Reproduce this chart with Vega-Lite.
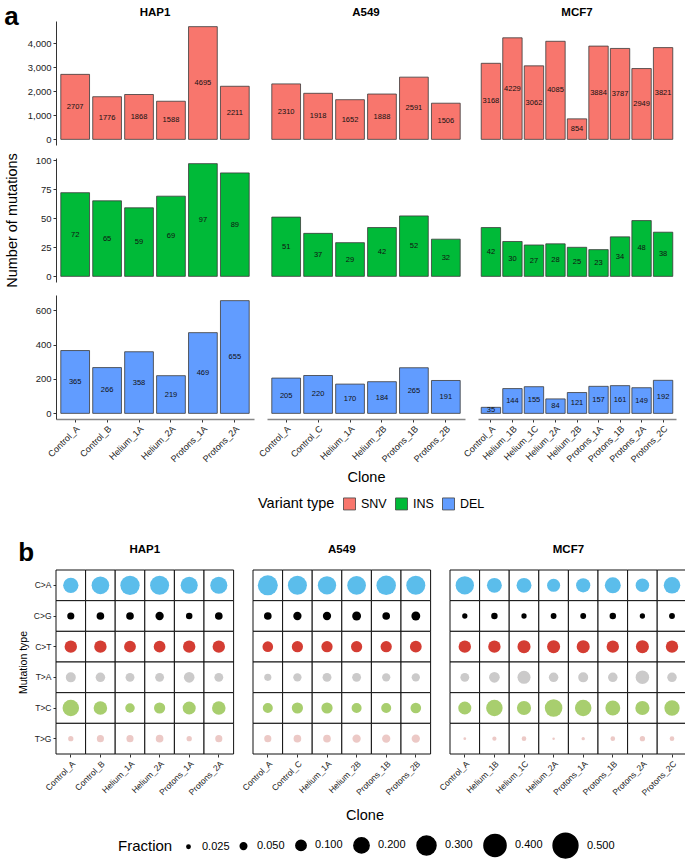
{
"$schema": "https://vega.github.io/schema/vega-lite/v6.json",
"padding": {"left": 4, "top": 3, "right": 0, "bottom": 0},
"config": {
  "font": "Liberation Sans",
  "view": {"stroke": null},
  "axis": {"grid": false, "labelColor": "#222", "labelFont": "Liberation Sans", "titleFont": "Liberation Sans", "domainColor": "#333", "tickColor": "#333", "titleFontWeight": "normal", "titleColor": "#000", "tickSize": 3},
  "header": {"labelFont": "Liberation Sans", "titleFont": "Liberation Sans"},
  "legend": {"labelFont": "Liberation Sans", "titleFont": "Liberation Sans"},
  "title": {"font": "Liberation Sans"},
  "bar": {"stroke": "#3a3a3a", "strokeWidth": 0.8},
  "text": {"fontSize": 7.5, "color": "#111"}
},
"datasets": {
  "counts": [
    {"cell":"HAP1","clone":"Control_A","type":"SNV","n":2707},
    {"cell":"HAP1","clone":"Control_B","type":"SNV","n":1776},
    {"cell":"HAP1","clone":"Helium_1A","type":"SNV","n":1868},
    {"cell":"HAP1","clone":"Helium_2A","type":"SNV","n":1588},
    {"cell":"HAP1","clone":"Protons_1A","type":"SNV","n":4695},
    {"cell":"HAP1","clone":"Protons_2A","type":"SNV","n":2211},
    {"cell":"A549","clone":"Control_A","type":"SNV","n":2310},
    {"cell":"A549","clone":"Control_C","type":"SNV","n":1918},
    {"cell":"A549","clone":"Helium_1A","type":"SNV","n":1652},
    {"cell":"A549","clone":"Helium_2B","type":"SNV","n":1888},
    {"cell":"A549","clone":"Protons_1B","type":"SNV","n":2591},
    {"cell":"A549","clone":"Protons_2B","type":"SNV","n":1506},
    {"cell":"MCF7","clone":"Control_A","type":"SNV","n":3168},
    {"cell":"MCF7","clone":"Helium_1B","type":"SNV","n":4229},
    {"cell":"MCF7","clone":"Helium_1C","type":"SNV","n":3062},
    {"cell":"MCF7","clone":"Helium_2A","type":"SNV","n":4085},
    {"cell":"MCF7","clone":"Helium_2B","type":"SNV","n":854},
    {"cell":"MCF7","clone":"Protons_1A","type":"SNV","n":3884},
    {"cell":"MCF7","clone":"Protons_1B","type":"SNV","n":3787},
    {"cell":"MCF7","clone":"Protons_2A","type":"SNV","n":2949},
    {"cell":"MCF7","clone":"Protons_2C","type":"SNV","n":3821},
    {"cell":"HAP1","clone":"Control_A","type":"INS","n":72},
    {"cell":"HAP1","clone":"Control_B","type":"INS","n":65},
    {"cell":"HAP1","clone":"Helium_1A","type":"INS","n":59},
    {"cell":"HAP1","clone":"Helium_2A","type":"INS","n":69},
    {"cell":"HAP1","clone":"Protons_1A","type":"INS","n":97},
    {"cell":"HAP1","clone":"Protons_2A","type":"INS","n":89},
    {"cell":"A549","clone":"Control_A","type":"INS","n":51},
    {"cell":"A549","clone":"Control_C","type":"INS","n":37},
    {"cell":"A549","clone":"Helium_1A","type":"INS","n":29},
    {"cell":"A549","clone":"Helium_2B","type":"INS","n":42},
    {"cell":"A549","clone":"Protons_1B","type":"INS","n":52},
    {"cell":"A549","clone":"Protons_2B","type":"INS","n":32},
    {"cell":"MCF7","clone":"Control_A","type":"INS","n":42},
    {"cell":"MCF7","clone":"Helium_1B","type":"INS","n":30},
    {"cell":"MCF7","clone":"Helium_1C","type":"INS","n":27},
    {"cell":"MCF7","clone":"Helium_2A","type":"INS","n":28},
    {"cell":"MCF7","clone":"Helium_2B","type":"INS","n":25},
    {"cell":"MCF7","clone":"Protons_1A","type":"INS","n":23},
    {"cell":"MCF7","clone":"Protons_1B","type":"INS","n":34},
    {"cell":"MCF7","clone":"Protons_2A","type":"INS","n":48},
    {"cell":"MCF7","clone":"Protons_2C","type":"INS","n":38},
    {"cell":"HAP1","clone":"Control_A","type":"DEL","n":365},
    {"cell":"HAP1","clone":"Control_B","type":"DEL","n":266},
    {"cell":"HAP1","clone":"Helium_1A","type":"DEL","n":358},
    {"cell":"HAP1","clone":"Helium_2A","type":"DEL","n":219},
    {"cell":"HAP1","clone":"Protons_1A","type":"DEL","n":469},
    {"cell":"HAP1","clone":"Protons_2A","type":"DEL","n":655},
    {"cell":"A549","clone":"Control_A","type":"DEL","n":205},
    {"cell":"A549","clone":"Control_C","type":"DEL","n":220},
    {"cell":"A549","clone":"Helium_1A","type":"DEL","n":170},
    {"cell":"A549","clone":"Helium_2B","type":"DEL","n":184},
    {"cell":"A549","clone":"Protons_1B","type":"DEL","n":265},
    {"cell":"A549","clone":"Protons_2B","type":"DEL","n":191},
    {"cell":"MCF7","clone":"Control_A","type":"DEL","n":35},
    {"cell":"MCF7","clone":"Helium_1B","type":"DEL","n":144},
    {"cell":"MCF7","clone":"Helium_1C","type":"DEL","n":155},
    {"cell":"MCF7","clone":"Helium_2A","type":"DEL","n":84},
    {"cell":"MCF7","clone":"Helium_2B","type":"DEL","n":121},
    {"cell":"MCF7","clone":"Protons_1A","type":"DEL","n":157},
    {"cell":"MCF7","clone":"Protons_1B","type":"DEL","n":161},
    {"cell":"MCF7","clone":"Protons_2A","type":"DEL","n":149},
    {"cell":"MCF7","clone":"Protons_2C","type":"DEL","n":192}
  ],
  "muts": [
    {"cell":"HAP1","clone":"Control_A","mut":"C>A","f":0.20},
    {"cell":"HAP1","clone":"Control_B","mut":"C>A","f":0.26},
    {"cell":"HAP1","clone":"Helium_1A","mut":"C>A","f":0.31},
    {"cell":"HAP1","clone":"Helium_2A","mut":"C>A","f":0.30},
    {"cell":"HAP1","clone":"Protons_1A","mut":"C>A","f":0.245},
    {"cell":"HAP1","clone":"Protons_2A","mut":"C>A","f":0.245},
    {"cell":"HAP1","clone":"Control_A","mut":"C>G","f":0.056},
    {"cell":"HAP1","clone":"Control_B","mut":"C>G","f":0.062},
    {"cell":"HAP1","clone":"Helium_1A","mut":"C>G","f":0.062},
    {"cell":"HAP1","clone":"Helium_2A","mut":"C>G","f":0.07},
    {"cell":"HAP1","clone":"Protons_1A","mut":"C>G","f":0.049},
    {"cell":"HAP1","clone":"Protons_2A","mut":"C>G","f":0.062},
    {"cell":"HAP1","clone":"Control_A","mut":"C>T","f":0.137},
    {"cell":"HAP1","clone":"Control_B","mut":"C>T","f":0.137},
    {"cell":"HAP1","clone":"Helium_1A","mut":"C>T","f":0.125},
    {"cell":"HAP1","clone":"Helium_2A","mut":"C>T","f":0.125},
    {"cell":"HAP1","clone":"Protons_1A","mut":"C>T","f":0.137},
    {"cell":"HAP1","clone":"Protons_2A","mut":"C>T","f":0.137},
    {"cell":"HAP1","clone":"Control_A","mut":"T>A","f":0.095},
    {"cell":"HAP1","clone":"Control_B","mut":"T>A","f":0.087},
    {"cell":"HAP1","clone":"Helium_1A","mut":"T>A","f":0.078},
    {"cell":"HAP1","clone":"Helium_2A","mut":"T>A","f":0.078},
    {"cell":"HAP1","clone":"Protons_1A","mut":"T>A","f":0.105},
    {"cell":"HAP1","clone":"Protons_2A","mut":"T>A","f":0.078},
    {"cell":"HAP1","clone":"Control_A","mut":"T>C","f":0.23},
    {"cell":"HAP1","clone":"Control_B","mut":"T>C","f":0.16},
    {"cell":"HAP1","clone":"Helium_1A","mut":"T>C","f":0.087},
    {"cell":"HAP1","clone":"Helium_2A","mut":"T>C","f":0.115},
    {"cell":"HAP1","clone":"Protons_1A","mut":"T>C","f":0.15},
    {"cell":"HAP1","clone":"Protons_2A","mut":"T>C","f":0.16},
    {"cell":"HAP1","clone":"Control_A","mut":"T>G","f":0.038},
    {"cell":"HAP1","clone":"Control_B","mut":"T>G","f":0.056},
    {"cell":"HAP1","clone":"Helium_1A","mut":"T>G","f":0.056},
    {"cell":"HAP1","clone":"Helium_2A","mut":"T>G","f":0.062},
    {"cell":"HAP1","clone":"Protons_1A","mut":"T>G","f":0.038},
    {"cell":"HAP1","clone":"Protons_2A","mut":"T>G","f":0.056},
    {"cell":"A549","clone":"Control_A","mut":"C>A","f":0.33},
    {"cell":"A549","clone":"Control_C","mut":"C>A","f":0.30},
    {"cell":"A549","clone":"Helium_1A","mut":"C>A","f":0.28},
    {"cell":"A549","clone":"Helium_2B","mut":"C>A","f":0.29},
    {"cell":"A549","clone":"Protons_1B","mut":"C>A","f":0.315},
    {"cell":"A549","clone":"Protons_2B","mut":"C>A","f":0.30},
    {"cell":"A549","clone":"Control_A","mut":"C>G","f":0.062},
    {"cell":"A549","clone":"Control_C","mut":"C>G","f":0.07},
    {"cell":"A549","clone":"Helium_1A","mut":"C>G","f":0.07},
    {"cell":"A549","clone":"Helium_2B","mut":"C>G","f":0.078},
    {"cell":"A549","clone":"Protons_1B","mut":"C>G","f":0.062},
    {"cell":"A549","clone":"Protons_2B","mut":"C>G","f":0.078},
    {"cell":"A549","clone":"Control_A","mut":"C>T","f":0.105},
    {"cell":"A549","clone":"Control_C","mut":"C>T","f":0.115},
    {"cell":"A549","clone":"Helium_1A","mut":"C>T","f":0.115},
    {"cell":"A549","clone":"Helium_2B","mut":"C>T","f":0.115},
    {"cell":"A549","clone":"Protons_1B","mut":"C>T","f":0.115},
    {"cell":"A549","clone":"Protons_2B","mut":"C>T","f":0.125},
    {"cell":"A549","clone":"Control_A","mut":"T>A","f":0.056},
    {"cell":"A549","clone":"Control_C","mut":"T>A","f":0.07},
    {"cell":"A549","clone":"Helium_1A","mut":"T>A","f":0.078},
    {"cell":"A549","clone":"Helium_2B","mut":"T>A","f":0.078},
    {"cell":"A549","clone":"Protons_1B","mut":"T>A","f":0.07},
    {"cell":"A549","clone":"Protons_2B","mut":"T>A","f":0.07},
    {"cell":"A549","clone":"Control_A","mut":"T>C","f":0.095},
    {"cell":"A549","clone":"Control_C","mut":"T>C","f":0.115},
    {"cell":"A549","clone":"Helium_1A","mut":"T>C","f":0.115},
    {"cell":"A549","clone":"Helium_2B","mut":"T>C","f":0.095},
    {"cell":"A549","clone":"Protons_1B","mut":"T>C","f":0.095},
    {"cell":"A549","clone":"Protons_2B","mut":"T>C","f":0.105},
    {"cell":"A549","clone":"Control_A","mut":"T>G","f":0.056},
    {"cell":"A549","clone":"Control_C","mut":"T>G","f":0.062},
    {"cell":"A549","clone":"Helium_1A","mut":"T>G","f":0.062},
    {"cell":"A549","clone":"Helium_2B","mut":"T>G","f":0.07},
    {"cell":"A549","clone":"Protons_1B","mut":"T>G","f":0.07},
    {"cell":"A549","clone":"Protons_2B","mut":"T>G","f":0.07},
    {"cell":"MCF7","clone":"Control_A","mut":"C>A","f":0.28},
    {"cell":"MCF7","clone":"Helium_1B","mut":"C>A","f":0.19},
    {"cell":"MCF7","clone":"Helium_1C","mut":"C>A","f":0.19},
    {"cell":"MCF7","clone":"Helium_2A","mut":"C>A","f":0.15},
    {"cell":"MCF7","clone":"Protons_1A","mut":"C>A","f":0.174},
    {"cell":"MCF7","clone":"Protons_1B","mut":"C>A","f":0.216},
    {"cell":"MCF7","clone":"Protons_2A","mut":"C>A","f":0.16},
    {"cell":"MCF7","clone":"Protons_2C","mut":"C>A","f":0.23},
    {"cell":"MCF7","clone":"Control_A","mut":"C>G","f":0.038},
    {"cell":"MCF7","clone":"Helium_1B","mut":"C>G","f":0.049},
    {"cell":"MCF7","clone":"Helium_1C","mut":"C>G","f":0.038},
    {"cell":"MCF7","clone":"Helium_2A","mut":"C>G","f":0.043},
    {"cell":"MCF7","clone":"Protons_1A","mut":"C>G","f":0.043},
    {"cell":"MCF7","clone":"Protons_1B","mut":"C>G","f":0.049},
    {"cell":"MCF7","clone":"Protons_2A","mut":"C>G","f":0.038},
    {"cell":"MCF7","clone":"Protons_2C","mut":"C>G","f":0.043},
    {"cell":"MCF7","clone":"Control_A","mut":"C>T","f":0.137},
    {"cell":"MCF7","clone":"Helium_1B","mut":"C>T","f":0.137},
    {"cell":"MCF7","clone":"Helium_1C","mut":"C>T","f":0.15},
    {"cell":"MCF7","clone":"Helium_2A","mut":"C>T","f":0.15},
    {"cell":"MCF7","clone":"Protons_1A","mut":"C>T","f":0.15},
    {"cell":"MCF7","clone":"Protons_1B","mut":"C>T","f":0.137},
    {"cell":"MCF7","clone":"Protons_2A","mut":"C>T","f":0.15},
    {"cell":"MCF7","clone":"Protons_2C","mut":"C>T","f":0.137},
    {"cell":"MCF7","clone":"Control_A","mut":"T>A","f":0.078},
    {"cell":"MCF7","clone":"Helium_1B","mut":"T>A","f":0.105},
    {"cell":"MCF7","clone":"Helium_1C","mut":"T>A","f":0.15},
    {"cell":"MCF7","clone":"Helium_2A","mut":"T>A","f":0.087},
    {"cell":"MCF7","clone":"Protons_1A","mut":"T>A","f":0.095},
    {"cell":"MCF7","clone":"Protons_1B","mut":"T>A","f":0.087},
    {"cell":"MCF7","clone":"Protons_2A","mut":"T>A","f":0.16},
    {"cell":"MCF7","clone":"Protons_2C","mut":"T>A","f":0.087},
    {"cell":"MCF7","clone":"Control_A","mut":"T>C","f":0.15},
    {"cell":"MCF7","clone":"Helium_1B","mut":"T>C","f":0.23},
    {"cell":"MCF7","clone":"Helium_1C","mut":"T>C","f":0.174},
    {"cell":"MCF7","clone":"Helium_2A","mut":"T>C","f":0.26},
    {"cell":"MCF7","clone":"Protons_1A","mut":"T>C","f":0.23},
    {"cell":"MCF7","clone":"Protons_1B","mut":"T>C","f":0.19},
    {"cell":"MCF7","clone":"Protons_2A","mut":"T>C","f":0.174},
    {"cell":"MCF7","clone":"Protons_2C","mut":"T>C","f":0.20},
    {"cell":"MCF7","clone":"Control_A","mut":"T>G","f":0.022},
    {"cell":"MCF7","clone":"Helium_1B","mut":"T>G","f":0.03},
    {"cell":"MCF7","clone":"Helium_1C","mut":"T>G","f":0.033},
    {"cell":"MCF7","clone":"Helium_2A","mut":"T>G","f":0.021},
    {"cell":"MCF7","clone":"Protons_1A","mut":"T>G","f":0.025},
    {"cell":"MCF7","clone":"Protons_1B","mut":"T>G","f":0.033},
    {"cell":"MCF7","clone":"Protons_2A","mut":"T>G","f":0.038},
    {"cell":"MCF7","clone":"Protons_2C","mut":"T>G","f":0.033}
  ]
},
"vconcat": [
  {
    "title": {"text": "a", "anchor": "start", "frame": "bounds", "fontSize": 26, "fontWeight": "bold", "offset": -23, "color": "#000"},
    "data": {"name": "counts"},
    "columns": 3,
    "bounds": "flush",
    "spacing": {"row": 13, "column": 13},
    "concat": [
      {"title": {"text": "HAP1", "fontSize": 11.5, "fontWeight": "bold", "offset": 3, "color": "#000"},
       "transform": [{"filter": {"and": [{"field": "type", "equal": "SNV"}, {"field": "cell", "equal": "HAP1"}]}}],
       "width": 198, "height": 124,
       "layer": [
         {"mark": "bar", "encoding": {
           "x": {"field": "clone", "type": "nominal", "scale": {"paddingInner": 0.1, "paddingOuter": 0.15}, "axis": null},
           "y": {"field": "n", "type": "quantitative", "scale": {"domain": [-234.75, 4929.75], "nice": false, "zero": false}, "axis": {"values": [0, 1000, 2000, 3000, 4000], "format": ",d", "title": null, "labelFontSize": 9.5}},
           "color": {"field": "type", "type": "nominal", "scale": {"domain": ["SNV", "INS", "DEL"], "range": ["#F8766D", "#00BA38", "#619CFF"]}, "legend": {"title": "Variant type", "orient": "none", "legendX": 202, "legendY": 476, "direction": "horizontal", "titleOrient": "left", "symbolType": "square", "symbolSize": 144, "symbolStrokeColor": "#444", "symbolStrokeWidth": 0.8, "labelFontSize": 12.5, "titleFontSize": 14.5, "titleFontWeight": "normal", "columnPadding": 6, "labelOffset": 5, "titlePadding": 8}}}},
         {"mark": "text", "encoding": {
           "x": {"field": "clone", "type": "nominal"},
           "y": {"field": "n", "type": "quantitative", "scale": {"domain": [-469.5, 9859.5], "nice": false, "zero": false}, "axis": null},
           "text": {"field": "n", "type": "quantitative", "format": "d"}}}
       ],
       "resolve": {"scale": {"y": "independent"}}},
      {"title": {"text": "A549", "fontSize": 11.5, "fontWeight": "bold", "offset": 3, "color": "#000"},
       "transform": [{"filter": {"and": [{"field": "type", "equal": "SNV"}, {"field": "cell", "equal": "A549"}]}}],
       "width": 198, "height": 124,
       "layer": [
         {"mark": "bar", "encoding": {
           "x": {"field": "clone", "type": "nominal", "scale": {"paddingInner": 0.1, "paddingOuter": 0.15}, "axis": null},
           "y": {"field": "n", "type": "quantitative", "scale": {"domain": [-234.75, 4929.75], "nice": false, "zero": false}, "axis": null},
           "color": {"field": "type", "type": "nominal"}}},
         {"mark": "text", "encoding": {
           "x": {"field": "clone", "type": "nominal"},
           "y": {"field": "n", "type": "quantitative", "scale": {"domain": [-469.5, 9859.5], "nice": false, "zero": false}, "axis": null},
           "text": {"field": "n", "type": "quantitative", "format": "d"}}}
       ],
       "resolve": {"scale": {"y": "independent"}}},
      {"title": {"text": "MCF7", "fontSize": 11.5, "fontWeight": "bold", "offset": 3, "color": "#000"},
       "transform": [{"filter": {"and": [{"field": "type", "equal": "SNV"}, {"field": "cell", "equal": "MCF7"}]}}],
       "width": 198, "height": 124,
       "layer": [
         {"mark": "bar", "encoding": {
           "x": {"field": "clone", "type": "nominal", "scale": {"paddingInner": 0.1, "paddingOuter": 0.15}, "axis": null},
           "y": {"field": "n", "type": "quantitative", "scale": {"domain": [-234.75, 4929.75], "nice": false, "zero": false}, "axis": null},
           "color": {"field": "type", "type": "nominal"}}},
         {"mark": "text", "encoding": {
           "x": {"field": "clone", "type": "nominal"},
           "y": {"field": "n", "type": "quantitative", "scale": {"domain": [-469.5, 9859.5], "nice": false, "zero": false}, "axis": null},
           "text": {"field": "n", "type": "quantitative", "format": "d"}}}
       ],
       "resolve": {"scale": {"y": "independent"}}},
      {"transform": [{"filter": {"and": [{"field": "type", "equal": "INS"}, {"field": "cell", "equal": "HAP1"}]}}],
       "width": 198, "height": 124,
       "layer": [
         {"mark": "bar", "encoding": {
           "x": {"field": "clone", "type": "nominal", "scale": {"paddingInner": 0.1, "paddingOuter": 0.15}, "axis": null},
           "y": {"field": "n", "type": "quantitative", "scale": {"domain": [-4.85, 101.85], "nice": false, "zero": false}, "axis": {"values": [0, 25, 50, 75, 100], "title": "Number of mutations", "titleFontSize": 14.5, "titlePadding": 16, "labelFontSize": 9.5}},
           "color": {"field": "type", "type": "nominal"}}},
         {"mark": "text", "encoding": {
           "x": {"field": "clone", "type": "nominal"},
           "y": {"field": "n", "type": "quantitative", "scale": {"domain": [-9.7, 203.7], "nice": false, "zero": false}, "axis": null},
           "text": {"field": "n", "type": "quantitative", "format": "d"}}}
       ],
       "resolve": {"scale": {"y": "independent"}}},
      {"transform": [{"filter": {"and": [{"field": "type", "equal": "INS"}, {"field": "cell", "equal": "A549"}]}}],
       "width": 198, "height": 124,
       "layer": [
         {"mark": "bar", "encoding": {
           "x": {"field": "clone", "type": "nominal", "scale": {"paddingInner": 0.1, "paddingOuter": 0.15}, "axis": null},
           "y": {"field": "n", "type": "quantitative", "scale": {"domain": [-4.85, 101.85], "nice": false, "zero": false}, "axis": null},
           "color": {"field": "type", "type": "nominal"}}},
         {"mark": "text", "encoding": {
           "x": {"field": "clone", "type": "nominal"},
           "y": {"field": "n", "type": "quantitative", "scale": {"domain": [-9.7, 203.7], "nice": false, "zero": false}, "axis": null},
           "text": {"field": "n", "type": "quantitative", "format": "d"}}}
       ],
       "resolve": {"scale": {"y": "independent"}}},
      {"transform": [{"filter": {"and": [{"field": "type", "equal": "INS"}, {"field": "cell", "equal": "MCF7"}]}}],
       "width": 198, "height": 124,
       "layer": [
         {"mark": "bar", "encoding": {
           "x": {"field": "clone", "type": "nominal", "scale": {"paddingInner": 0.1, "paddingOuter": 0.15}, "axis": null},
           "y": {"field": "n", "type": "quantitative", "scale": {"domain": [-4.85, 101.85], "nice": false, "zero": false}, "axis": null},
           "color": {"field": "type", "type": "nominal"}}},
         {"mark": "text", "encoding": {
           "x": {"field": "clone", "type": "nominal"},
           "y": {"field": "n", "type": "quantitative", "scale": {"domain": [-9.7, 203.7], "nice": false, "zero": false}, "axis": null},
           "text": {"field": "n", "type": "quantitative", "format": "d"}}}
       ],
       "resolve": {"scale": {"y": "independent"}}},
      {"transform": [{"filter": {"and": [{"field": "type", "equal": "DEL"}, {"field": "cell", "equal": "HAP1"}]}}],
       "width": 198, "height": 124,
       "layer": [
         {"mark": "bar", "encoding": {
           "x": {"field": "clone", "type": "nominal", "scale": {"paddingInner": 0.1, "paddingOuter": 0.15}, "axis": {"title": null, "labelAngle": -45, "labelFontSize": 9, "domainColor": "#888", "domainWidth": 1.5}},
           "y": {"field": "n", "type": "quantitative", "scale": {"domain": [-32.75, 687.75], "nice": false, "zero": false}, "axis": {"values": [0, 200, 400, 600], "title": null, "labelFontSize": 9.5}},
           "color": {"field": "type", "type": "nominal"}}},
         {"mark": "text", "encoding": {
           "x": {"field": "clone", "type": "nominal"},
           "y": {"field": "n", "type": "quantitative", "scale": {"domain": [-65.5, 1375.5], "nice": false, "zero": false}, "axis": null},
           "text": {"field": "n", "type": "quantitative", "format": "d"}}}
       ],
       "resolve": {"scale": {"y": "independent"}}},
      {"transform": [{"filter": {"and": [{"field": "type", "equal": "DEL"}, {"field": "cell", "equal": "A549"}]}}],
       "width": 198, "height": 124,
       "layer": [
         {"mark": "bar", "encoding": {
           "x": {"field": "clone", "type": "nominal", "scale": {"paddingInner": 0.1, "paddingOuter": 0.15}, "axis": {"title": "Clone", "titleFontSize": 14.5, "titlePadding": 7, "labelAngle": -45, "labelFontSize": 9, "domainColor": "#888", "domainWidth": 1.5}},
           "y": {"field": "n", "type": "quantitative", "scale": {"domain": [-32.75, 687.75], "nice": false, "zero": false}, "axis": null},
           "color": {"field": "type", "type": "nominal"}}},
         {"mark": "text", "encoding": {
           "x": {"field": "clone", "type": "nominal"},
           "y": {"field": "n", "type": "quantitative", "scale": {"domain": [-65.5, 1375.5], "nice": false, "zero": false}, "axis": null},
           "text": {"field": "n", "type": "quantitative", "format": "d"}}}
       ],
       "resolve": {"scale": {"y": "independent"}}},
      {"transform": [{"filter": {"and": [{"field": "type", "equal": "DEL"}, {"field": "cell", "equal": "MCF7"}]}}],
       "width": 198, "height": 124,
       "layer": [
         {"mark": "bar", "encoding": {
           "x": {"field": "clone", "type": "nominal", "scale": {"paddingInner": 0.1, "paddingOuter": 0.15}, "axis": {"title": null, "labelAngle": -45, "labelFontSize": 9, "domainColor": "#888", "domainWidth": 1.5}},
           "y": {"field": "n", "type": "quantitative", "scale": {"domain": [-32.75, 687.75], "nice": false, "zero": false}, "axis": null},
           "color": {"field": "type", "type": "nominal"}}},
         {"mark": "text", "encoding": {
           "x": {"field": "clone", "type": "nominal"},
           "y": {"field": "n", "type": "quantitative", "scale": {"domain": [-65.5, 1375.5], "nice": false, "zero": false}, "axis": null},
           "text": {"field": "n", "type": "quantitative", "format": "d"}}}
       ],
       "resolve": {"scale": {"y": "independent"}}}
    ]
  },
  {
    "title": {"text": "b", "anchor": "start", "frame": "bounds", "fontSize": 26, "fontWeight": "bold", "offset": -22, "color": "#000"},
    "data": {"name": "muts"},
    "facet": {"column": {"field": "cell", "type": "nominal", "sort": ["HAP1", "A549", "MCF7"], "header": {"title": "Clone", "titleOrient": "bottom", "labelOrient": "top", "labelFontSize": 11.5, "labelFontWeight": "bold", "labelColor": "#000", "labelPadding": 15, "titleFontSize": 14.5, "titleFontWeight": "normal", "titleColor": "#000", "titlePadding": 45}}},
    "bounds": "flush",
    "spacing": 19,
    "resolve": {"scale": {"x": "independent"}},
    "spec": {
      "width": {"step": 29.6}, "height": 184,
      "layer": [
        {"mark": {"type": "rect", "fill": "white", "stroke": "#111", "strokeWidth": 1},
         "encoding": {
           "x": {"field": "clone", "type": "nominal", "scale": {"padding": 0}, "axis": {"title": null, "labelAngle": -45, "labelFontSize": 8.5, "domain": false}},
           "y": {"field": "mut", "type": "nominal", "sort": ["C>A", "C>G", "C>T", "T>A", "T>C", "T>G"], "scale": {"padding": 0}, "axis": {"title": "Mutation type", "titleFontSize": 10.5, "titlePadding": 5, "labelFontSize": 8.5, "domain": false}}
         }},
        {"mark": {"type": "circle", "opacity": 1},
         "encoding": {
           "x": {"field": "clone", "type": "nominal"},
           "y": {"field": "mut", "type": "nominal", "sort": ["C>A", "C>G", "C>T", "T>A", "T>C", "T>G"]},
           "size": {"field": "f", "type": "quantitative", "scale": {"domain": [0.02, 0.5], "range": [5, 616]}, "legend": {"title": "Fraction", "orient": "none", "legendX": 62, "legendY": 262, "direction": "horizontal", "titleOrient": "left", "values": [0.025, 0.05, 0.1, 0.2, 0.3, 0.4, 0.5], "format": ".3f", "symbolFillColor": "#000", "symbolStrokeColor": "#000", "labelFontSize": 11, "titleFontSize": 15, "titleFontWeight": "normal", "columnPadding": 7, "labelOffset": 8, "titlePadding": 10}},
           "color": {"field": "mut", "type": "nominal", "scale": {"domain": ["C>A", "C>G", "C>T", "T>A", "T>C", "T>G"], "range": ["#5BBDEB", "#000000", "#D43D33", "#CBCACA", "#A8CE6E", "#ECC9C6"]}, "legend": null}
         }}
      ]
    }
  }
],
"spacing": 27,
"resolve": {"scale": {"color": "independent", "size": "independent"}, "legend": {"color": "independent", "size": "independent"}}
}
